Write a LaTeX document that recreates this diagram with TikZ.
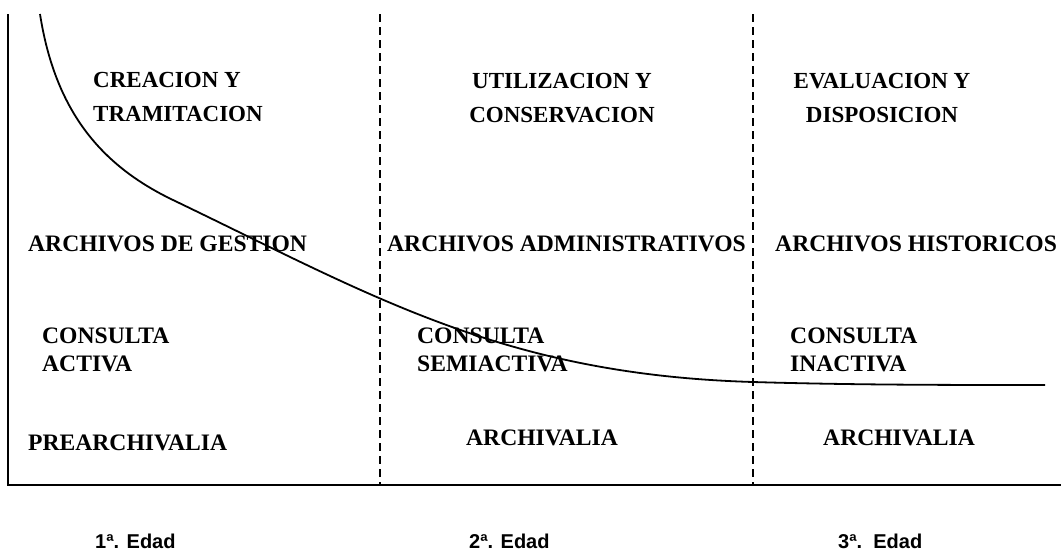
\documentclass[tikz,border=0pt]{standalone}
\usepackage{fontspec}
\setmainfont{Liberation Serif}
\newfontfamily\edadfont{Liberation Sans}
\usepackage{tikz}
\usetikzlibrary{positioning}

\begin{document}
\begin{tikzpicture}[x=1pt,y=-1pt,
  eje/.style={line width=2pt},
  sep/.style={line width=1.3pt,dash pattern=on 8pt off 5pt},
  curva/.style={line width=1.8pt},
  lbl/.style={anchor=base west,inner sep=0pt,align=left,font=\fontsize{23.6}{28}\selectfont\bfseries},
  tit/.style={anchor=base,inner sep=0pt,align=center,font=\fontsize{23}{34}\selectfont\bfseries},
  edad/.style={anchor=base west,inner sep=0pt,font=\edadfont\fontsize{20}{24}\selectfont\bfseries}]
 \useasboundingbox (0,0) rectangle (1064,554);
 % ejes
 \coordinate (ytop) at (8,14);
 \coordinate (o) at (8,485);
 \coordinate (xend) at (1061,485);
 \draw[eje] (ytop) -- (o) -- (xend);
 % separaciones de las edades
 \coordinate (s1top) at (380,14);
 \coordinate (s1bot) at (380,485);
 \coordinate (s2top) at (753,14);
 \coordinate (s2bot) at (753,485);
 \draw[sep] (s1top) -- (s1bot);
 \draw[sep] (s2top) -- (s2bot);
 % curva de uso
 \draw[curva] (40,14) .. controls (55,110) and (100,165) .. (173,200)
   .. controls (373,296) and (503,374.5) .. (753,382)
   .. controls (853,385) and (950,385) .. (1045,385);
 % fases
 \node[lbl,font=\fontsize{23}{34}\selectfont\bfseries] (creacion) at (93,121) {CREACION Y\\TRAMITACION};
 \node[tit] (utilizacion) at (562,122) {UTILIZACION Y\\CONSERVACION};
 \node[tit] (evaluacion) at (882,122) {EVALUACION Y\\DISPOSICION};
 % archivos
 \node[lbl] (gestion) at (28,251) {ARCHIVOS DE GESTION};
 \node[lbl] (admin) at (387,251) {ARCHIVOS ADMINISTRATIVOS};
 \node[lbl] (hist) at (775,251) {ARCHIVOS HISTORICOS};
 % consulta
 \node[lbl] (activa) at (42,371) {CONSULTA\\ACTIVA};
 \node[lbl] (semiactiva) at (417,371) {CONSULTA\\SEMIACTIVA};
 \node[lbl] (inactiva) at (790,371) {CONSULTA\\INACTIVA};
 % archivalia
 \node[lbl] (prearch) at (28,450) {PREARCHIVALIA};
 \node[lbl] (arch2) at (466,445) {ARCHIVALIA};
 \node[lbl] (arch3) at (823,445) {ARCHIVALIA};
 % edades
 \node[edad] (edad1) at (95,548) {1ª. Edad};
 \node[edad] (edad2) at (469,548) {2ª. Edad};
 \node[edad] (edad3) at (838,548) {3ª.\ \ Edad};
\end{tikzpicture}
\end{document}
